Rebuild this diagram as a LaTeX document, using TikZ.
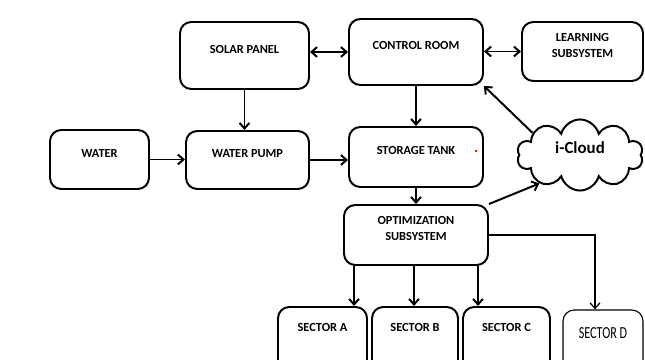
\documentclass[tikz,border=0pt]{standalone}
\usepackage{fontspec}
\setmainfont{Carlito}
\newfontfamily\narrowfont[FakeStretch=0.72]{Carlito}
\usetikzlibrary{arrows.meta,shapes.symbols}

\begin{document}
\begin{tikzpicture}[x=0.025cm, y=-0.025cm, >={Straight Barb[length=4pt,width=7pt]},
  block/.style={draw, line width=1.4pt, rounded corners=8pt, align=center,
    font=\bfseries\fontsize{8.8}{11.3}\selectfont, text height=6pt, text depth=9.5pt},
  twoline/.style={text height=14pt, text depth=6pt},
  dims/.style 2 args={minimum width=#1*0.025cm, minimum height=#2*0.025cm},
  flow/.style={->, line width=1.4pt}]
  \useasboundingbox (0,0) rectangle (645,360);
  \clip (0,0) rectangle (645,360);

  % Top row
  \node[block, dims={129}{67}] (solar) at (244.5,55.5) {SOLAR PANEL};
  \node[block, dims={134}{66}] (control) at (416,52) {CONTROL ROOM};
  \node[block, twoline, dims={121}{59}] (learn) at (582.5,51.5) {LEARNING\\SUBSYSTEM};

  % Middle row
  \node[block, dims={99}{59}] (water) at (99.5,159.5) {WATER};
  \node[block, dims={123}{58}] (pump) at (247.5,160) {WATER PUMP};
  \node[block, dims={134}{60}] (tank) at (416,157) {STORAGE TANK};
  \fill[red] (476,151) circle (1pt);

  % Cloud
  \node[cloud, draw, line width=1.4pt, cloud puffs=10, aspect=2.1, dims={126}{60},
    font=\bfseries\fontsize{12}{14}\selectfont, text height=8pt, text depth=10pt] (cloud) at (580,155) {i-Cloud};

  % Optimization and sectors
  \node[block, twoline, dims={144}{60}] (optim) at (416,235) {OPTIMIZATION\\SUBSYSTEM};
  \node[block, dims={89}{65}, text depth=18pt] (secA) at (322.5,339.5) {SECTOR A};
  \node[block, dims={86}{65}, text depth=18pt] (secB) at (415,339.5) {SECTOR B};
  \node[block, dims={87}{65}, text depth=18pt] (secC) at (506.5,339.5) {SECTOR C};
  \node[block, dims={80}{62}, line width=0.8pt, font=\narrowfont\fontsize{12}{14}\selectfont,
    text height=8pt, text depth=12pt] (secD) at (603,341) {SECTOR D};

  % Connectors
  \draw[flow, <->] (control.west -| solar.east) -- (control.west);
  \draw[flow, <->] (learn.west -| control.east) -- (learn.west);
  \draw[flow] (solar.south) -- (solar.south |- pump.north);
  \draw[flow] (control) -- (tank);
  \draw[flow] (water.east) -- (water.east -| pump.west);
  \draw[flow] (pump.east) -- (pump.east -| tank.west);
  \draw[flow] (tank) -- (optim);
  \draw[flow] (cloud.155) -- (control.south east);
  \draw[flow] (optim.north east) -- (cloud.215);
  \draw[flow] ([xshift=11*0.025cm]optim.south west) coordinate (a1) -- (a1 |- secA.north);
  \draw[flow] ([xshift=-2*0.025cm]optim.south) coordinate (a2) -- (a2 |- secB.north);
  \draw[flow] ([xshift=-11*0.025cm]optim.south east) coordinate (a3) -- (a3 |- secC.north);
  \draw[->, line width=0.9pt] (optim.east) -| ([xshift=-8*0.025cm]secD.north);
\end{tikzpicture}
\end{document}
